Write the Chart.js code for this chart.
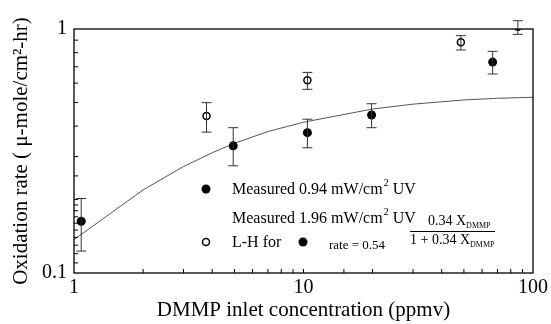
<!DOCTYPE html>
<html lang="en">
<head>
<meta charset="UTF-8">
<title>DMMP oxidation rate</title>
<script src="https://cdn.jsdelivr.net/npm/chart.js"></script>
<style>
    html, body { margin: 0; padding: 0; background: #fff; }
    .chart-container { position: relative; width: 551px; height: 324px; }
</style>
</head>
<body>
<div class="chart-container">
    <canvas id="rateChart" width="551" height="324"></canvas>
</div>
<script>
// measured 0.94 mW/cm2 UV (filled)
const lowX = [1.075, 4.94, 10.4, 19.8, 66.7];
const lowY = [0.163, 0.332, 0.376, 0.444, 0.732];
const lowErrTop = [0.202, 0.394, 0.427, 0.494, 0.81];
const lowErrBottom = [0.123, 0.275, 0.326, 0.394, 0.654];

// measured 1.96 mW/cm2 UV (open)
const highX = [3.78, 10.4, 48.5, 85.9];
const highY = [0.44, 0.616, 0.882, 1.022];
const highErrTop = [0.499, 0.664, 0.939, 1.081];
const highErrBottom = [0.378, 0.566, 0.82, 0.951];

// L-H fit curve
const fitX = [1, 2, 3, 4, 5, 7, 10, 20, 30, 50, 70, 100];
const fitY = [0.137, 0.219, 0.273, 0.311, 0.340, 0.380, 0.415, 0.470, 0.492, 0.512, 0.520, 0.525];

const xLabels = [1, 10, 100];
const yLabels = [0.1, 1];

const SERIF = "'Liberation Serif', 'DejaVu Serif', serif";

const toPoints = (xs, ys) => xs.map((x, i) => ({ x: x, y: ys[i] }));

const errorBars = {
    id: "errorBars",
    afterDatasetsDraw(chart) {
        const ctx = chart.ctx;
        const xs = chart.scales.x, ys = chart.scales.y;
        const sets = [[lowX, lowErrTop, lowErrBottom], [highX, highErrTop, highErrBottom]];
        ctx.save();
        ctx.strokeStyle = "#333";
        ctx.lineWidth = 1;
        sets.forEach(([xv, top, bot]) => {
            xv.forEach((x, i) => {
                const px = xs.getPixelForValue(x);
                const pt = ys.getPixelForValue(top[i]);
                const pb = ys.getPixelForValue(bot[i]);
                ctx.beginPath();
                ctx.moveTo(px, pt); ctx.lineTo(px, pb);
                ctx.moveTo(px - 5, pt); ctx.lineTo(px + 5, pt);
                ctx.moveTo(px - 5, pb); ctx.lineTo(px + 5, pb);
                ctx.stroke();
            });
        });
        ctx.restore();
    }
};

const frameAndTicks = {
    id: "frameAndTicks",
    afterDraw(chart) {
        const ctx = chart.ctx;
        const a = chart.chartArea;
        const xs = chart.scales.x, ys = chart.scales.y;
        ctx.save();
        ctx.strokeStyle = "#000";
        ctx.lineWidth = 1.3;
        ctx.strokeRect(a.left, a.top, a.right - a.left, a.bottom - a.top);
        ctx.lineWidth = 1;
        ctx.beginPath();
        xs.ticks.forEach(t => {
            const px = xs.getPixelForValue(t.value);
            if (px <= a.left + 1 || px >= a.right - 1) return;
            ctx.moveTo(px, a.bottom); ctx.lineTo(px, a.bottom - 4);
        });
        ys.ticks.forEach(t => {
            const py = ys.getPixelForValue(t.value);
            if (py <= a.top + 1 || py >= a.bottom - 1) return;
            ctx.moveTo(a.left, py); ctx.lineTo(a.left + 4, py);
        });
        ctx.stroke();

        // legend / annotation
        const dot = (x, y, filled) => {
            ctx.beginPath();
            ctx.arc(x, y, filled ? 4.5 : 3.5, 0, Math.PI * 2);
            if (filled) { ctx.fillStyle = "#000"; ctx.fill(); }
            else { ctx.lineWidth = 1.5; ctx.strokeStyle = "#000"; ctx.stroke(); }
        };
        const sup = (text, x, y, size, supText, rest) => {
            ctx.font = size + "px " + SERIF;
            ctx.fillText(text, x, y);
            let w = ctx.measureText(text).width;
            ctx.font = Math.round(size * 0.6) + "px " + SERIF;
            ctx.fillText(supText, x + w + 1, y - size * 0.4);
            const w2 = ctx.measureText(supText).width;
            ctx.font = size + "px " + SERIF;
            ctx.fillText(rest, x + w + w2 + 5, y);
        };
        ctx.fillStyle = "#000";
        ctx.textBaseline = "middle";
        ctx.textAlign = "left";
        dot(206, 189, true);
        sup("Measured 0.94 mW/cm", 232, 190, 16, "2", "UV");
        sup("Measured 1.96 mW/cm", 232, 219, 16, "2", "UV");
        dot(206, 242, false);
        ctx.font = "16px " + SERIF;
        ctx.fillText("L-H for", 232, 243);
        dot(303, 242, true);
        ctx.font = "13px " + SERIF;
        ctx.fillText("rate = 0.54", 329, 246);
        // fraction
        const sub = (main, x, y, subText) => {
            ctx.font = "14px " + SERIF;
            ctx.fillText(main, x, y);
            const w = ctx.measureText(main).width;
            ctx.font = "8px " + SERIF;
            ctx.fillText(subText, x + w, y + 5);
        };
        sub("0.34 X", 428, 221, "DMMP");
        sub("1 + 0.34 X", 410, 240, "DMMP");
        ctx.beginPath();
        ctx.lineWidth = 1;
        ctx.moveTo(410, 231.5); ctx.lineTo(495, 231.5);
        ctx.stroke();
        ctx.restore();
    }
};

new Chart(document.getElementById("rateChart"), {
    type: "scatter",
    data: {
        datasets: [
            {
                label: "Measured 0.94 mW/cm2 UV",
                data: toPoints(lowX, lowY),
                pointRadius: 4.5,
                pointBackgroundColor: "#000",
                pointBorderColor: "#000",
                pointBorderWidth: 0,
                order: 1
            },
            {
                label: "Measured 1.96 mW/cm2 UV",
                data: toPoints(highX, highY),
                pointRadius: 3.5,
                pointBackgroundColor: "#fff",
                pointBorderColor: "#000",
                pointBorderWidth: 1.5,
                order: 1
            },
            {
                label: "L-H",
                data: toPoints(fitX, fitY),
                showLine: true,
                pointRadius: 0,
                borderColor: "#555",
                borderWidth: 1,
                order: 2
            }
        ]
    },
    options: {
        responsive: false,
        animation: false,
        devicePixelRatio: 1,
        layout: { padding: { top: 29, right: 15, left: 0, bottom: 0 } },
        plugins: { legend: { display: false }, tooltip: { enabled: false } },
        scales: {
            x: {
                type: "logarithmic",
                min: 1,
                max: 100,
                grid: { display: false, drawTicks: false },
                border: { display: false },
                afterFit: s => { s.height = 51; },
                ticks: {
                    autoSkip: false,
                    maxRotation: 0,
                    padding: 3,
                    color: "#000",
                    font: { family: SERIF, size: 20 },
                    callback: v => xLabels.includes(v) ? String(v) : ""
                },
                title: {
                    display: true,
                    text: "DMMP inlet concentration (ppmv)",
                    color: "#000",
                    font: { family: SERIF, size: 21 },
                    padding: { top: 0, bottom: 1 }
                }
            },
            y: {
                type: "logarithmic",
                min: 0.1,
                max: 1,
                grid: { display: false, drawTicks: false },
                border: { display: false },
                afterFit: s => { s.width = 74; },
                ticks: {
                    autoSkip: false,
                    padding: 7,
                    color: "#000",
                    font: { family: SERIF, size: 20 },
                    callback: v => yLabels.includes(v) ? String(v) : ""
                },
                title: {
                    display: true,
                    text: "Oxidation rate ( \u03bc-mole/cm\u00b2-hr)",
                    color: "#000",
                    font: { family: SERIF, size: 21 },
                    padding: { top: 9, bottom: 0 }
                }
            }
        }
    },
    plugins: [errorBars, frameAndTicks]
});
</script>
</body>
</html>
